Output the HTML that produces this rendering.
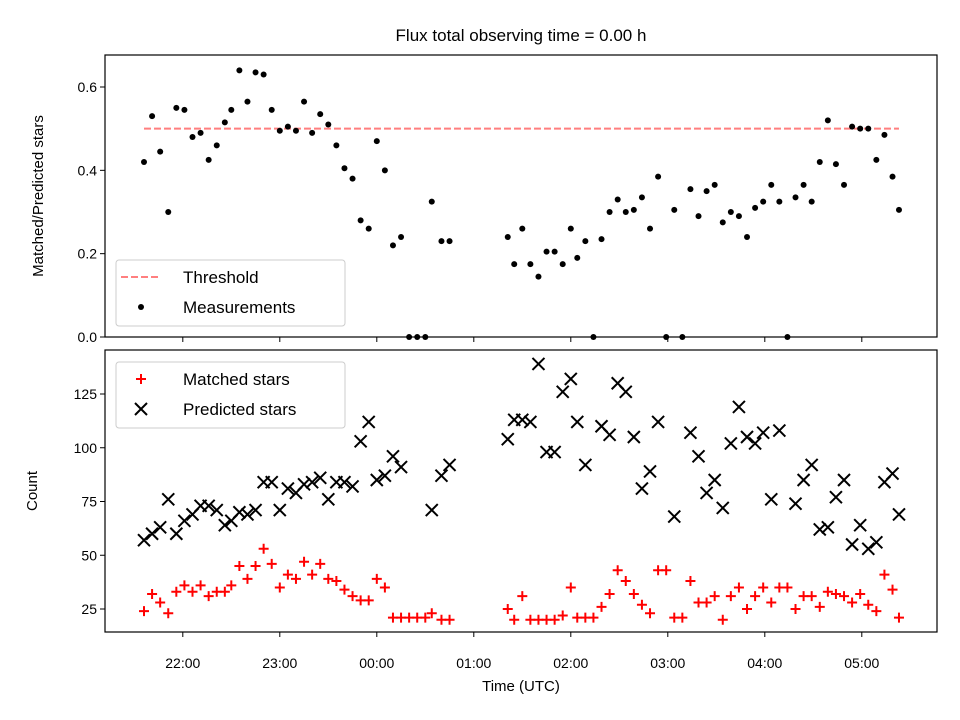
<!DOCTYPE html>
<html><head><meta charset="utf-8"><style>body{margin:0;background:#fff}svg{display:block;font-family:"Liberation Sans","DejaVu Sans",sans-serif}</style></head>
<body>
<svg id="chart" width="960" height="720" viewBox="0 0 960 720"></svg>
<script>
const times = [36,41,46,51,56,61,66,71,76,81,86,90,95,100,105,110,115,120,125,130,135,140,145,150,155,160,165,170,175,180,185,190,195,200,205,210,214,220,225,
261,265,270,275,280,285,290,295,300,304,309,314,319,324,329,334,339,344,349,354,359,364,369,374,379,384,389,
394,399,404,409,414,419,424,429,434,439,444,449,454,459,464,469,474,479,484,489,494,499,503];
const ratio = [.42,.53,.445,.30,.55,.545,.48,.49,.425,.46,.515,.545,.64,.565,.635,.63,.545,.495,.505,.495,.565,.49,.535,.51,.46,.405,.38,.28,.26,.47,.40,.22,.24,0,0,0,.325,.23,.23,
.24,.175,.26,.175,.145,.205,.205,.175,.26,.19,.23,0,.235,.30,.33,.30,.305,.335,.26,.385,0,.305,0,.355,.29,.35,.365,
.275,.30,.29,.24,.31,.325,.365,.325,0,.335,.365,.325,.42,.52,.415,.365,.505,.50,.50,.425,.485,.385,.305];
const matched = [24,32,28,23,33,36,33,36,31,33,33,36,45,39,45,53,46,35,41,39,47,41,46,39,38,34,31,29,29,39,35,21,21,21,21,21,23,20,20,
25,20,31,20,20,20,20,22,35,21,21,21,26,32,43,38,32,27,23,43,43,21,21,38,28,28,31,
20,31,35,25,31,35,28,35,35,25,31,31,26,33,32,31,28,32,27,24,41,34,21];
const predicted = [57,60,63,76,60,66,69,73,73,71,64,66,70,69,71,84,84,71,81,79,83,84,86,76,84,84,82,103,112,85,87,96,91,null,null,null,71,87,92,
104,113,113,112,139,98,98,126,132,112,92,null,110,106,130,126,105,81,89,112,null,68,null,107,96,79,85,
72,102,119,105,102,107,76,108,null,74,85,92,62,63,77,85,55,64,53,56,84,88,69];
const threshold = 0.5;
const xTickMinutes = [60,120,180,240,300,360,420,480];
const xTickLabels = ["22:00","23:00","00:00","01:00","02:00","03:00","04:00","05:00"];
const topTicks = [0,0.2,0.4,0.6];
const botTicks = [25,50,75,100,125];

const NS="http://www.w3.org/2000/svg", svg=document.getElementById('chart');
function el(t,a,p){const e=document.createElementNS(NS,t);for(const k in a)e.setAttribute(k,a[k]);(p||svg).appendChild(e);return e;}
const L=105,R=937,T1=55,B1=337,T2=350,B2=632;
const xs=m=>144+(m-36)*97/60;
const y1=v=>337-v*(337-87)/0.6;
const y2=v=>609-(v-25)*(609-394)/100;

let t=el('text',{x:521,y:41,'font-size':17,'text-anchor':'middle',fill:'#000'});t.textContent='Flux total observing time = 0.00 h';


function axes(top,bot,ticks,yf,fmt,lbl,lx,name,labelsX){
  const g=el('g',{});
  el('rect',{x:L,y:top,width:R-L,height:bot-top,fill:'none',stroke:'#000','stroke-width':1.2},g);
  ticks.forEach(v=>{const y=yf(v);el('line',{x1:L-5,x2:L,y1:y,y2:y,stroke:'#000'},g);
    const tx=el('text',{x:L-8,y:y+5,'font-size':14,'text-anchor':'end'},g);tx.textContent=fmt(v);
    });
  xTickMinutes.forEach((m,i)=>{const x=xs(m);el('line',{x1:x,x2:x,y1:bot,y2:bot+5,stroke:'#000'},g);
    if(labelsX){const tx=el('text',{x:x,y:bot+36,'font-size':14,'text-anchor':'middle'},g);tx.textContent=xTickLabels[i];
    }});
  const yl=el('text',{x:lx,y:(top+bot)/2,'font-size':15,'text-anchor':'middle',transform:`rotate(-90 ${lx} ${(top+bot)/2})`},g);yl.textContent=lbl;
  
  return g;
}
const g1=axes(T1,B1,topTicks,y1,v=>v.toFixed(1),'Matched/Predicted stars',43,'top-axes',false);
const g2=axes(T2,B2,botTicks,y2,v=>String(v),'Count',37,'bottom-axes',true);
const xl=el('text',{x:521,y:691,'font-size':15,'text-anchor':'middle'});xl.textContent='Time (UTC)';


const th=el('line',{x1:xs(times[0]),x2:xs(times[times.length-1]),y1:y1(threshold),y2:y1(threshold),stroke:'#ff7f7f','stroke-width':2,'stroke-dasharray':'7,3'});

times.forEach((m,i)=>{
  const c=el('circle',{cx:xs(m),cy:y1(ratio[i]),r:3,fill:'#000'});
  
  if(matched[i]!=null){const x=xs(m),y=y2(matched[i]);
    const p=el('path',{d:`M${x-5} ${y}H${x+5}M${x} ${y-5}V${y+5}`,stroke:'#f00','stroke-width':2});
    }
  if(predicted[i]!=null){const x=xs(m),y=y2(predicted[i]);
    const p=el('path',{d:`M${x-6} ${y-6}L${x+6} ${y+6}M${x-6} ${y+6}L${x+6} ${y-6}`,stroke:'#000','stroke-width':2});
    }
});

function legend(x,y,w,h,items,name){
  const g=el('g',{});
  el('rect',{x,y,width:w,height:h,rx:3,fill:'#fff','fill-opacity':0.8,stroke:'#ccc'},g);
  items.forEach((it,i)=>{const cy=y+17+i*30;it.draw(g,x+23,cy);
    const tx=el('text',{x:x+67,y:cy+6,'font-size':17},g);tx.textContent=it.label;
    });
}
legend(116,260,229,66,[
 {label:'Threshold',draw:(g,x,y)=>el('line',{x1:x-18,x2:x+20,y1:y,y2:y,stroke:'#ff7f7f','stroke-width':2,'stroke-dasharray':'7,3'},g)},
 {label:'Measurements',draw:(g,x,y)=>el('circle',{cx:x+2,cy:y,r:3,fill:'#000'},g)}],'top-legend');
legend(116,362,229,66,[
 {label:'Matched stars',draw:(g,x,y)=>el('path',{d:`M${x-3} ${y}H${x+7}M${x+2} ${y-5}V${y+5}`,stroke:'#f00','stroke-width':2},g)},
 {label:'Predicted stars',draw:(g,x,y)=>el('path',{d:`M${x-4} ${y-6}L${x+8} ${y+6}M${x-4} ${y+6}L${x+8} ${y-6}`,stroke:'#000','stroke-width':2},g)}],'bottom-legend');
</script>
</body></html>
